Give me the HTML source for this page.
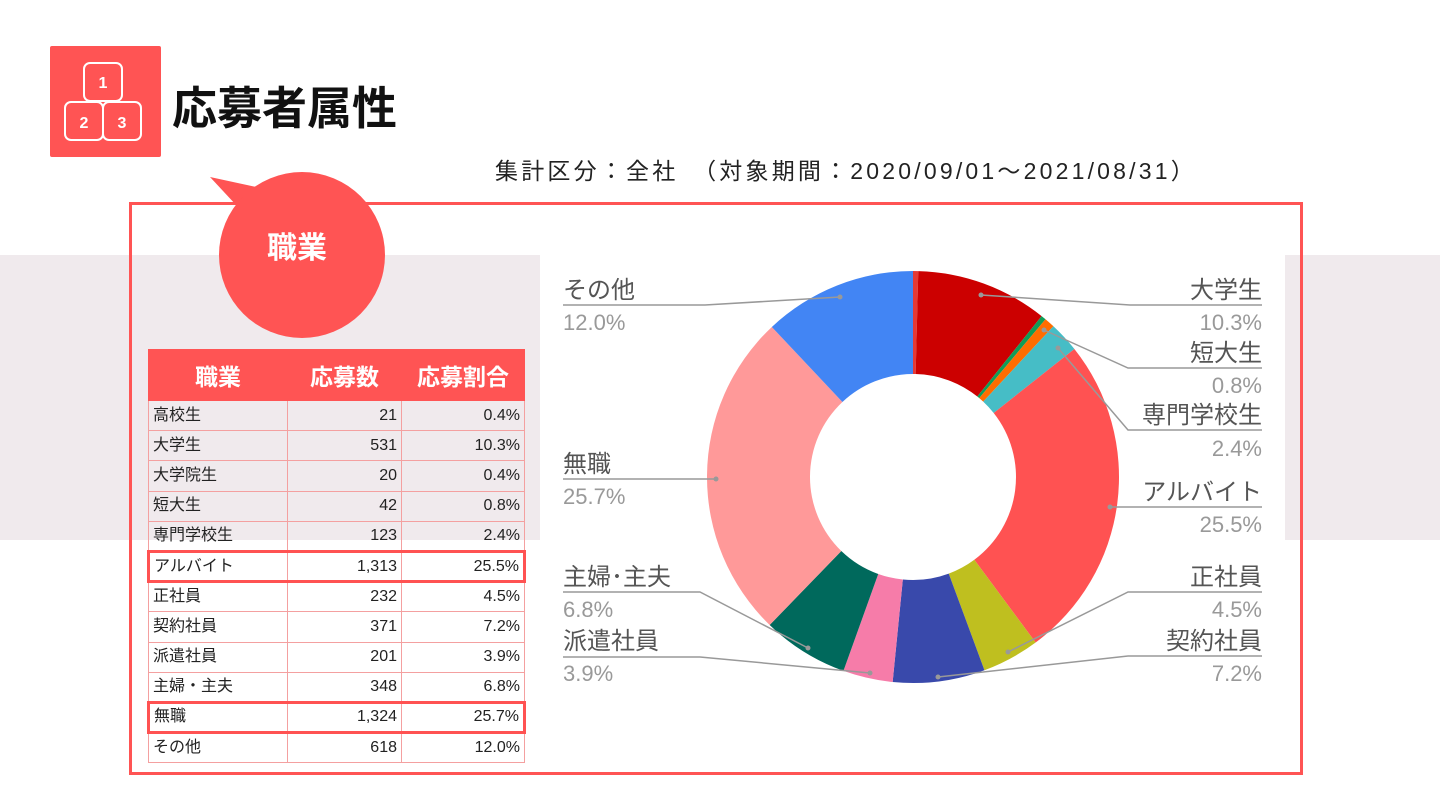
<!DOCTYPE html>
<html><head><meta charset="utf-8"><style>
body{margin:0;width:1440px;height:808px;position:relative;overflow:hidden;background:#fff;font-family:"Liberation Sans","Noto Sans CJK JP",sans-serif}
.abs{position:absolute}
table{border-collapse:collapse;position:absolute;left:147px;top:349px;width:379px;font-size:16px;color:#222;table-layout:fixed}
td{border:1px solid #f4a0a0;height:30.2px;padding:0 4px;box-sizing:border-box;line-height:16px}
th{background:#ff5454;color:#fff;height:51px;font-size:23px;font-weight:bold;border:1px solid #ff5454;padding:0;box-sizing:border-box}
td.n{text-align:right}
tr.h td{border-top:3px solid #ff5252;border-bottom:3px solid #ff5252}
tr.h td:first-child{border-left:3px solid #ff5252}
tr.h td:last-child{border-right:3px solid #ff5252}
</style></head><body>
<div class="abs" style="left:0;top:255px;width:1440px;height:285px;background:#f0eaed"></div>
<div class="abs" style="left:540px;top:205px;width:745px;height:566px;background:#fff"></div>
<div class="abs" style="left:129px;top:202px;width:1168px;height:567px;border:3px solid #ff5454"></div>
<div class="abs" style="left:50px;top:46px;width:111px;height:111px;background:#ff5454;border-radius:2px"></div>
<svg class="abs" style="left:50px;top:46px" width="111" height="111" fill="none" stroke="#fff" stroke-width="2">
<rect x="34" y="17" width="38" height="38" rx="6"/><rect x="15" y="56" width="38" height="38" rx="6"/><rect x="53" y="56" width="38" height="38" rx="6"/>
<text x="53" y="42" fill="#fff" stroke="none" font-size="16" font-weight="bold" text-anchor="middle" font-family="Liberation Sans">1</text>
<text x="34" y="82" fill="#fff" stroke="none" font-size="16" font-weight="bold" text-anchor="middle" font-family="Liberation Sans">2</text>
<text x="72" y="82" fill="#fff" stroke="none" font-size="16" font-weight="bold" text-anchor="middle" font-family="Liberation Sans">3</text></svg>
<div class="abs" style="left:172px;top:72px;font-size:45px;font-weight:bold;color:#111">応募者属性</div>
<div class="abs" style="left:495px;top:152px;font-size:23px;color:#222;white-space:pre;letter-spacing:3.2px">集計区分：全社　（対象期間：2020/09/01～2021/08/31）</div>
<svg class="abs" style="left:0;top:0" width="1440" height="808">
<path d="M210,177 L270,190 L250,220 Z" fill="#ff5454"/>
<circle cx="302" cy="255" r="83" fill="#ff5454"/>
<text x="297" y="258" fill="#fff" font-size="30" font-weight="bold" text-anchor="middle" font-family="Liberation Sans,Noto Sans CJK JP,sans-serif">職業</text>
</svg>
<table>
<colgroup><col style="width:139px"><col style="width:114px"><col></colgroup>
<tr><th>職業</th><th>応募数</th><th>応募割合</th></tr>
<tr><td>高校生</td><td class="n">21</td><td class="n">0.4%</td></tr>
<tr><td>大学生</td><td class="n">531</td><td class="n">10.3%</td></tr>
<tr><td>大学院生</td><td class="n">20</td><td class="n">0.4%</td></tr>
<tr><td>短大生</td><td class="n">42</td><td class="n">0.8%</td></tr>
<tr><td>専門学校生</td><td class="n">123</td><td class="n">2.4%</td></tr>
<tr class="h"><td>アルバイト</td><td class="n">1,313</td><td class="n">25.5%</td></tr>
<tr><td>正社員</td><td class="n">232</td><td class="n">4.5%</td></tr>
<tr><td>契約社員</td><td class="n">371</td><td class="n">7.2%</td></tr>
<tr><td>派遣社員</td><td class="n">201</td><td class="n">3.9%</td></tr>
<tr><td>主婦・主夫</td><td class="n">348</td><td class="n">6.8%</td></tr>
<tr class="h"><td>無職</td><td class="n">1,324</td><td class="n">25.7%</td></tr>
<tr><td>その他</td><td class="n">618</td><td class="n">12.0%</td></tr>
</table>
<svg id="pie" class="abs" style="left:0;top:0" width="1440" height="808" font-family="Liberation Sans,Noto Sans CJK JP,sans-serif" font-size="24">
<g id="sl"></g>
<g fill="none" stroke="#999" stroke-width="1.5">
<polyline points="563,305 705,305 840,297"/>
<polyline points="563,479 716,479"/>
<polyline points="563,592 700,592 808,648"/>
<polyline points="563,657 700,657 870,673"/>
<polyline points="1262,305 1130,305 981,295"/>
<polyline points="1262,368 1128,368 1044,330"/>
<polyline points="1262,430 1128,430 1058,348"/>
<polyline points="1262,507 1110,507"/>
<polyline points="1262,592 1128,592 1008,652"/>
<polyline points="1262,656 1128,656 938,677"/>
</g>
<g fill="#999"><circle cx="840" cy="297" r="2.5"/><circle cx="716" cy="479" r="2.5"/><circle cx="808" cy="648" r="2.5"/><circle cx="870" cy="673" r="2.5"/><circle cx="981" cy="295" r="2.5"/><circle cx="1044" cy="330" r="2.5"/><circle cx="1058" cy="348" r="2.5"/><circle cx="1110" cy="507" r="2.5"/><circle cx="1008" cy="652" r="2.5"/><circle cx="938" cy="677" r="2.5"/></g>
<g fill="#555"><text x="563" y="298">その他</text><text x="563" y="472">無職</text><text x="563" y="585">主婦･主夫</text><text x="563" y="649">派遣社員</text></g>
<g fill="#999" font-size="22"><text x="563" y="330">12.0%</text><text x="563" y="504">25.7%</text><text x="563" y="617">6.8%</text><text x="563" y="681">3.9%</text></g>
<g fill="#555" text-anchor="end"><text x="1262" y="298">大学生</text><text x="1262" y="361">短大生</text><text x="1262" y="423">専門学校生</text><text x="1262" y="500">アルバイト</text><text x="1262" y="585">正社員</text><text x="1262" y="649">契約社員</text></g>
<g fill="#999" text-anchor="end" font-size="22"><text x="1262" y="330">10.3%</text><text x="1262" y="393">0.8%</text><text x="1262" y="456">2.4%</text><text x="1262" y="532">25.5%</text><text x="1262" y="617">4.5%</text><text x="1262" y="681">7.2%</text></g>
</svg>
<script>
var d=[[21,"#e53935"],[531,"#cc0000"],[20,"#0f9d58"],[42,"#ff6d00"],[123,"#46bdc6"],[1313,"#ff5252"],[232,"#bfbf1f"],[371,"#3949ab"],[201,"#f67ca9"],[348,"#00695c"],[1324,"#ff9999"],[618,"#4285f4"]];
var t=0;d.forEach(function(x){t+=x[0]});
var cx=913,cy=477,R=206,r=103,a=0,s="";
function p(ang,rr){return [cx+rr*Math.sin(ang),cy-rr*Math.cos(ang)]}
d.forEach(function(x){var b=a+x[0]/t*2*Math.PI,l=(b-a)>Math.PI?1:0;
var p1=p(a,R),p2=p(b,R),p3=p(b,r),p4=p(a,r);
s+='<path fill="'+x[1]+'" d="M'+p1+' A'+R+','+R+' 0 '+l+' 1 '+p2+' L'+p3+' A'+r+','+r+' 0 '+l+' 0 '+p4+'Z"/>';a=b;});
document.getElementById("sl").innerHTML=s;
</script>
</body></html>
